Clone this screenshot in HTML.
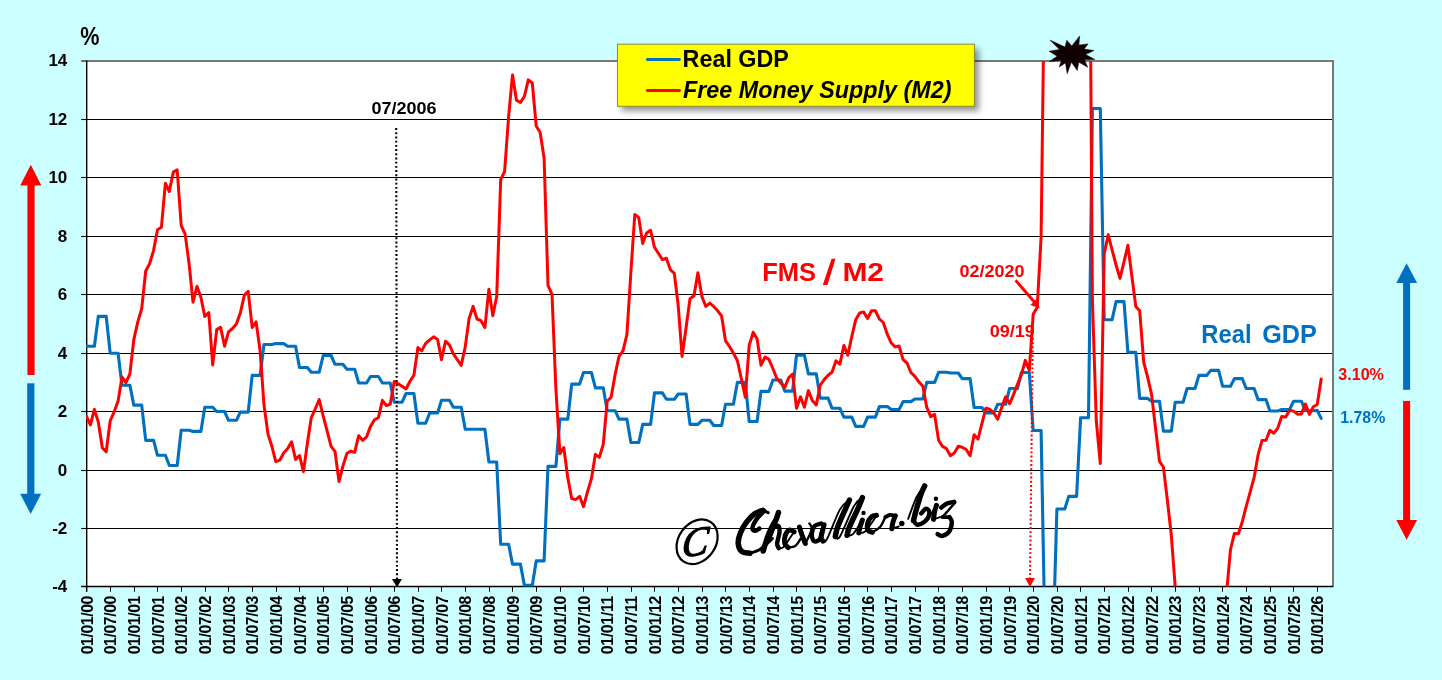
<!DOCTYPE html><html><head><meta charset="utf-8"><title>Real GDP vs Free Money Supply</title>
<style>html,body{margin:0;padding:0;background:#ccffff;}body{width:1442px;height:680px;overflow:hidden;font-family:"Liberation Sans",sans-serif;}svg{display:block}text{font-family:"Liberation Sans",sans-serif;font-weight:bold}</style></head><body>
<svg width="1442" height="680" viewBox="0 0 1442 680" style="opacity:0.999">
<defs><clipPath id="cp"><rect x="86.0" y="61.0" width="1247.1" height="525.6"/></clipPath>
<filter id="sh" x="-5%" y="-10%" width="115%" height="140%"><feGaussianBlur stdDeviation="3"/></filter></defs>
<rect x="0" y="0" width="1442" height="680" fill="#ccffff"/>
<rect x="86.7" y="61.0" width="1246.4" height="525.0" fill="#ffffff"/>
<line x1="86.7" y1="528.5" x2="1333.1" y2="528.5" stroke="#000" stroke-width="1.1"/>
<line x1="86.7" y1="470.5" x2="1333.1" y2="470.5" stroke="#000" stroke-width="1.1"/>
<line x1="86.7" y1="411.5" x2="1333.1" y2="411.5" stroke="#000" stroke-width="1.1"/>
<line x1="86.7" y1="353.5" x2="1333.1" y2="353.5" stroke="#000" stroke-width="1.1"/>
<line x1="86.7" y1="294.5" x2="1333.1" y2="294.5" stroke="#000" stroke-width="1.1"/>
<line x1="86.7" y1="236.5" x2="1333.1" y2="236.5" stroke="#000" stroke-width="1.1"/>
<line x1="86.7" y1="177.5" x2="1333.1" y2="177.5" stroke="#000" stroke-width="1.1"/>
<line x1="86.7" y1="119.5" x2="1333.1" y2="119.5" stroke="#000" stroke-width="1.1"/>
<line x1="86.7" y1="61" x2="1334" y2="61" stroke="#787878" stroke-width="2"/>
<line x1="1333" y1="60" x2="1333" y2="587" stroke="#787878" stroke-width="2"/>
<line x1="86.7" y1="60.5" x2="86.7" y2="591.7" stroke="#000" stroke-width="1.4"/>
<line x1="81.2" y1="586.5" x2="1333.1" y2="586.5" stroke="#000" stroke-width="1.3"/>
<text x="67.3" y="591.5" font-size="17" text-anchor="end" fill="#000">-4</text>
<line x1="81.2" y1="528.5" x2="86.7" y2="528.5" stroke="#000" stroke-width="1.1"/>
<text x="67.3" y="533.5" font-size="17" text-anchor="end" fill="#000">-2</text>
<line x1="81.2" y1="470.5" x2="86.7" y2="470.5" stroke="#000" stroke-width="1.1"/>
<text x="67.3" y="475.5" font-size="17" text-anchor="end" fill="#000">0</text>
<line x1="81.2" y1="411.5" x2="86.7" y2="411.5" stroke="#000" stroke-width="1.1"/>
<text x="67.3" y="416.5" font-size="17" text-anchor="end" fill="#000">2</text>
<line x1="81.2" y1="353.5" x2="86.7" y2="353.5" stroke="#000" stroke-width="1.1"/>
<text x="67.3" y="358.5" font-size="17" text-anchor="end" fill="#000">4</text>
<line x1="81.2" y1="294.5" x2="86.7" y2="294.5" stroke="#000" stroke-width="1.1"/>
<text x="67.3" y="299.5" font-size="17" text-anchor="end" fill="#000">6</text>
<line x1="81.2" y1="236.5" x2="86.7" y2="236.5" stroke="#000" stroke-width="1.1"/>
<text x="67.3" y="241.5" font-size="17" text-anchor="end" fill="#000">8</text>
<line x1="81.2" y1="177.5" x2="86.7" y2="177.5" stroke="#000" stroke-width="1.1"/>
<text x="67.3" y="182.5" font-size="17" text-anchor="end" fill="#000">10</text>
<line x1="81.2" y1="119.5" x2="86.7" y2="119.5" stroke="#000" stroke-width="1.1"/>
<text x="67.3" y="124.5" font-size="17" text-anchor="end" fill="#000">12</text>
<line x1="81.2" y1="61.0" x2="86.7" y2="61.0" stroke="#000" stroke-width="1.1"/>
<text x="67.3" y="66.0" font-size="17" text-anchor="end" fill="#000">14</text>
<line x1="86.5" y1="586.0" x2="86.5" y2="591.7" stroke="#000" stroke-width="1.05"/>
<text transform="translate(92.50,595.7) rotate(-90)" font-size="15.8" text-anchor="end" textLength="58.6" lengthAdjust="spacing" fill="#000">01/01/00</text>
<line x1="110.5" y1="586.0" x2="110.5" y2="591.7" stroke="#000" stroke-width="1.05"/>
<text transform="translate(116.17,595.7) rotate(-90)" font-size="15.8" text-anchor="end" textLength="58.6" lengthAdjust="spacing" fill="#000">01/07/00</text>
<line x1="134.5" y1="586.0" x2="134.5" y2="591.7" stroke="#000" stroke-width="1.05"/>
<text transform="translate(139.84,595.7) rotate(-90)" font-size="15.8" text-anchor="end" textLength="58.6" lengthAdjust="spacing" fill="#000">01/01/01</text>
<line x1="157.5" y1="586.0" x2="157.5" y2="591.7" stroke="#000" stroke-width="1.05"/>
<text transform="translate(163.50,595.7) rotate(-90)" font-size="15.8" text-anchor="end" textLength="58.6" lengthAdjust="spacing" fill="#000">01/07/01</text>
<line x1="181.5" y1="586.0" x2="181.5" y2="591.7" stroke="#000" stroke-width="1.05"/>
<text transform="translate(187.17,595.7) rotate(-90)" font-size="15.8" text-anchor="end" textLength="58.6" lengthAdjust="spacing" fill="#000">01/01/02</text>
<line x1="205.5" y1="586.0" x2="205.5" y2="591.7" stroke="#000" stroke-width="1.05"/>
<text transform="translate(210.84,595.7) rotate(-90)" font-size="15.8" text-anchor="end" textLength="58.6" lengthAdjust="spacing" fill="#000">01/07/02</text>
<line x1="228.5" y1="586.0" x2="228.5" y2="591.7" stroke="#000" stroke-width="1.05"/>
<text transform="translate(234.51,595.7) rotate(-90)" font-size="15.8" text-anchor="end" textLength="58.6" lengthAdjust="spacing" fill="#000">01/01/03</text>
<line x1="252.5" y1="586.0" x2="252.5" y2="591.7" stroke="#000" stroke-width="1.05"/>
<text transform="translate(258.18,595.7) rotate(-90)" font-size="15.8" text-anchor="end" textLength="58.6" lengthAdjust="spacing" fill="#000">01/07/03</text>
<line x1="276.5" y1="586.0" x2="276.5" y2="591.7" stroke="#000" stroke-width="1.05"/>
<text transform="translate(281.84,595.7) rotate(-90)" font-size="15.8" text-anchor="end" textLength="58.6" lengthAdjust="spacing" fill="#000">01/01/04</text>
<line x1="299.5" y1="586.0" x2="299.5" y2="591.7" stroke="#000" stroke-width="1.05"/>
<text transform="translate(305.51,595.7) rotate(-90)" font-size="15.8" text-anchor="end" textLength="58.6" lengthAdjust="spacing" fill="#000">01/07/04</text>
<line x1="323.5" y1="586.0" x2="323.5" y2="591.7" stroke="#000" stroke-width="1.05"/>
<text transform="translate(329.18,595.7) rotate(-90)" font-size="15.8" text-anchor="end" textLength="58.6" lengthAdjust="spacing" fill="#000">01/01/05</text>
<line x1="347.5" y1="586.0" x2="347.5" y2="591.7" stroke="#000" stroke-width="1.05"/>
<text transform="translate(352.85,595.7) rotate(-90)" font-size="15.8" text-anchor="end" textLength="58.6" lengthAdjust="spacing" fill="#000">01/07/05</text>
<line x1="370.5" y1="586.0" x2="370.5" y2="591.7" stroke="#000" stroke-width="1.05"/>
<text transform="translate(376.52,595.7) rotate(-90)" font-size="15.8" text-anchor="end" textLength="58.6" lengthAdjust="spacing" fill="#000">01/01/06</text>
<line x1="394.5" y1="586.0" x2="394.5" y2="591.7" stroke="#000" stroke-width="1.05"/>
<text transform="translate(400.18,595.7) rotate(-90)" font-size="15.8" text-anchor="end" textLength="58.6" lengthAdjust="spacing" fill="#000">01/07/06</text>
<line x1="418.5" y1="586.0" x2="418.5" y2="591.7" stroke="#000" stroke-width="1.05"/>
<text transform="translate(423.85,595.7) rotate(-90)" font-size="15.8" text-anchor="end" textLength="58.6" lengthAdjust="spacing" fill="#000">01/01/07</text>
<line x1="441.5" y1="586.0" x2="441.5" y2="591.7" stroke="#000" stroke-width="1.05"/>
<text transform="translate(447.52,595.7) rotate(-90)" font-size="15.8" text-anchor="end" textLength="58.6" lengthAdjust="spacing" fill="#000">01/07/07</text>
<line x1="465.5" y1="586.0" x2="465.5" y2="591.7" stroke="#000" stroke-width="1.05"/>
<text transform="translate(471.19,595.7) rotate(-90)" font-size="15.8" text-anchor="end" textLength="58.6" lengthAdjust="spacing" fill="#000">01/01/08</text>
<line x1="489.5" y1="586.0" x2="489.5" y2="591.7" stroke="#000" stroke-width="1.05"/>
<text transform="translate(494.86,595.7) rotate(-90)" font-size="15.8" text-anchor="end" textLength="58.6" lengthAdjust="spacing" fill="#000">01/07/08</text>
<line x1="512.5" y1="586.0" x2="512.5" y2="591.7" stroke="#000" stroke-width="1.05"/>
<text transform="translate(518.52,595.7) rotate(-90)" font-size="15.8" text-anchor="end" textLength="58.6" lengthAdjust="spacing" fill="#000">01/01/09</text>
<line x1="536.5" y1="586.0" x2="536.5" y2="591.7" stroke="#000" stroke-width="1.05"/>
<text transform="translate(542.19,595.7) rotate(-90)" font-size="15.8" text-anchor="end" textLength="58.6" lengthAdjust="spacing" fill="#000">01/07/09</text>
<line x1="560.5" y1="586.0" x2="560.5" y2="591.7" stroke="#000" stroke-width="1.05"/>
<text transform="translate(565.86,595.7) rotate(-90)" font-size="15.8" text-anchor="end" textLength="58.6" lengthAdjust="spacing" fill="#000">01/01/10</text>
<line x1="583.5" y1="586.0" x2="583.5" y2="591.7" stroke="#000" stroke-width="1.05"/>
<text transform="translate(589.53,595.7) rotate(-90)" font-size="15.8" text-anchor="end" textLength="58.6" lengthAdjust="spacing" fill="#000">01/07/10</text>
<line x1="607.5" y1="586.0" x2="607.5" y2="591.7" stroke="#000" stroke-width="1.05"/>
<text transform="translate(613.20,595.7) rotate(-90)" font-size="15.8" text-anchor="end" textLength="58.6" lengthAdjust="spacing" fill="#000">01/01/11</text>
<line x1="631.5" y1="586.0" x2="631.5" y2="591.7" stroke="#000" stroke-width="1.05"/>
<text transform="translate(636.86,595.7) rotate(-90)" font-size="15.8" text-anchor="end" textLength="58.6" lengthAdjust="spacing" fill="#000">01/07/11</text>
<line x1="654.5" y1="586.0" x2="654.5" y2="591.7" stroke="#000" stroke-width="1.05"/>
<text transform="translate(660.53,595.7) rotate(-90)" font-size="15.8" text-anchor="end" textLength="58.6" lengthAdjust="spacing" fill="#000">01/01/12</text>
<line x1="678.5" y1="586.0" x2="678.5" y2="591.7" stroke="#000" stroke-width="1.05"/>
<text transform="translate(684.20,595.7) rotate(-90)" font-size="15.8" text-anchor="end" textLength="58.6" lengthAdjust="spacing" fill="#000">01/07/12</text>
<line x1="702.5" y1="586.0" x2="702.5" y2="591.7" stroke="#000" stroke-width="1.05"/>
<text transform="translate(707.87,595.7) rotate(-90)" font-size="15.8" text-anchor="end" textLength="58.6" lengthAdjust="spacing" fill="#000">01/01/13</text>
<line x1="725.5" y1="586.0" x2="725.5" y2="591.7" stroke="#000" stroke-width="1.05"/>
<text transform="translate(731.54,595.7) rotate(-90)" font-size="15.8" text-anchor="end" textLength="58.6" lengthAdjust="spacing" fill="#000">01/07/13</text>
<line x1="749.5" y1="586.0" x2="749.5" y2="591.7" stroke="#000" stroke-width="1.05"/>
<text transform="translate(755.20,595.7) rotate(-90)" font-size="15.8" text-anchor="end" textLength="58.6" lengthAdjust="spacing" fill="#000">01/01/14</text>
<line x1="773.5" y1="586.0" x2="773.5" y2="591.7" stroke="#000" stroke-width="1.05"/>
<text transform="translate(778.87,595.7) rotate(-90)" font-size="15.8" text-anchor="end" textLength="58.6" lengthAdjust="spacing" fill="#000">01/07/14</text>
<line x1="796.5" y1="586.0" x2="796.5" y2="591.7" stroke="#000" stroke-width="1.05"/>
<text transform="translate(802.54,595.7) rotate(-90)" font-size="15.8" text-anchor="end" textLength="58.6" lengthAdjust="spacing" fill="#000">01/01/15</text>
<line x1="820.5" y1="586.0" x2="820.5" y2="591.7" stroke="#000" stroke-width="1.05"/>
<text transform="translate(826.21,595.7) rotate(-90)" font-size="15.8" text-anchor="end" textLength="58.6" lengthAdjust="spacing" fill="#000">01/07/15</text>
<line x1="844.5" y1="586.0" x2="844.5" y2="591.7" stroke="#000" stroke-width="1.05"/>
<text transform="translate(849.88,595.7) rotate(-90)" font-size="15.8" text-anchor="end" textLength="58.6" lengthAdjust="spacing" fill="#000">01/01/16</text>
<line x1="867.5" y1="586.0" x2="867.5" y2="591.7" stroke="#000" stroke-width="1.05"/>
<text transform="translate(873.54,595.7) rotate(-90)" font-size="15.8" text-anchor="end" textLength="58.6" lengthAdjust="spacing" fill="#000">01/07/16</text>
<line x1="891.5" y1="586.0" x2="891.5" y2="591.7" stroke="#000" stroke-width="1.05"/>
<text transform="translate(897.21,595.7) rotate(-90)" font-size="15.8" text-anchor="end" textLength="58.6" lengthAdjust="spacing" fill="#000">01/01/17</text>
<line x1="915.5" y1="586.0" x2="915.5" y2="591.7" stroke="#000" stroke-width="1.05"/>
<text transform="translate(920.88,595.7) rotate(-90)" font-size="15.8" text-anchor="end" textLength="58.6" lengthAdjust="spacing" fill="#000">01/07/17</text>
<line x1="938.5" y1="586.0" x2="938.5" y2="591.7" stroke="#000" stroke-width="1.05"/>
<text transform="translate(944.55,595.7) rotate(-90)" font-size="15.8" text-anchor="end" textLength="58.6" lengthAdjust="spacing" fill="#000">01/01/18</text>
<line x1="962.5" y1="586.0" x2="962.5" y2="591.7" stroke="#000" stroke-width="1.05"/>
<text transform="translate(968.22,595.7) rotate(-90)" font-size="15.8" text-anchor="end" textLength="58.6" lengthAdjust="spacing" fill="#000">01/07/18</text>
<line x1="986.5" y1="586.0" x2="986.5" y2="591.7" stroke="#000" stroke-width="1.05"/>
<text transform="translate(991.88,595.7) rotate(-90)" font-size="15.8" text-anchor="end" textLength="58.6" lengthAdjust="spacing" fill="#000">01/01/19</text>
<line x1="1009.5" y1="586.0" x2="1009.5" y2="591.7" stroke="#000" stroke-width="1.05"/>
<text transform="translate(1015.55,595.7) rotate(-90)" font-size="15.8" text-anchor="end" textLength="58.6" lengthAdjust="spacing" fill="#000">01/07/19</text>
<line x1="1033.5" y1="586.0" x2="1033.5" y2="591.7" stroke="#000" stroke-width="1.05"/>
<text transform="translate(1039.22,595.7) rotate(-90)" font-size="15.8" text-anchor="end" textLength="58.6" lengthAdjust="spacing" fill="#000">01/01/20</text>
<line x1="1057.5" y1="586.0" x2="1057.5" y2="591.7" stroke="#000" stroke-width="1.05"/>
<text transform="translate(1062.89,595.7) rotate(-90)" font-size="15.8" text-anchor="end" textLength="58.6" lengthAdjust="spacing" fill="#000">01/07/20</text>
<line x1="1080.5" y1="586.0" x2="1080.5" y2="591.7" stroke="#000" stroke-width="1.05"/>
<text transform="translate(1086.56,595.7) rotate(-90)" font-size="15.8" text-anchor="end" textLength="58.6" lengthAdjust="spacing" fill="#000">01/01/21</text>
<line x1="1104.5" y1="586.0" x2="1104.5" y2="591.7" stroke="#000" stroke-width="1.05"/>
<text transform="translate(1110.22,595.7) rotate(-90)" font-size="15.8" text-anchor="end" textLength="58.6" lengthAdjust="spacing" fill="#000">01/07/21</text>
<line x1="1128.5" y1="586.0" x2="1128.5" y2="591.7" stroke="#000" stroke-width="1.05"/>
<text transform="translate(1133.89,595.7) rotate(-90)" font-size="15.8" text-anchor="end" textLength="58.6" lengthAdjust="spacing" fill="#000">01/01/22</text>
<line x1="1151.5" y1="586.0" x2="1151.5" y2="591.7" stroke="#000" stroke-width="1.05"/>
<text transform="translate(1157.56,595.7) rotate(-90)" font-size="15.8" text-anchor="end" textLength="58.6" lengthAdjust="spacing" fill="#000">01/07/22</text>
<line x1="1175.5" y1="586.0" x2="1175.5" y2="591.7" stroke="#000" stroke-width="1.05"/>
<text transform="translate(1181.23,595.7) rotate(-90)" font-size="15.8" text-anchor="end" textLength="58.6" lengthAdjust="spacing" fill="#000">01/01/23</text>
<line x1="1199.5" y1="586.0" x2="1199.5" y2="591.7" stroke="#000" stroke-width="1.05"/>
<text transform="translate(1204.90,595.7) rotate(-90)" font-size="15.8" text-anchor="end" textLength="58.6" lengthAdjust="spacing" fill="#000">01/07/23</text>
<line x1="1222.5" y1="586.0" x2="1222.5" y2="591.7" stroke="#000" stroke-width="1.05"/>
<text transform="translate(1228.56,595.7) rotate(-90)" font-size="15.8" text-anchor="end" textLength="58.6" lengthAdjust="spacing" fill="#000">01/01/24</text>
<line x1="1246.5" y1="586.0" x2="1246.5" y2="591.7" stroke="#000" stroke-width="1.05"/>
<text transform="translate(1252.23,595.7) rotate(-90)" font-size="15.8" text-anchor="end" textLength="58.6" lengthAdjust="spacing" fill="#000">01/07/24</text>
<line x1="1270.5" y1="586.0" x2="1270.5" y2="591.7" stroke="#000" stroke-width="1.05"/>
<text transform="translate(1275.90,595.7) rotate(-90)" font-size="15.8" text-anchor="end" textLength="58.6" lengthAdjust="spacing" fill="#000">01/01/25</text>
<line x1="1293.5" y1="586.0" x2="1293.5" y2="591.7" stroke="#000" stroke-width="1.05"/>
<text transform="translate(1299.57,595.7) rotate(-90)" font-size="15.8" text-anchor="end" textLength="58.6" lengthAdjust="spacing" fill="#000">01/07/25</text>
<line x1="1317.5" y1="586.0" x2="1317.5" y2="591.7" stroke="#000" stroke-width="1.05"/>
<text transform="translate(1323.24,595.7) rotate(-90)" font-size="15.8" text-anchor="end" textLength="58.6" lengthAdjust="spacing" fill="#000">01/01/26</text>
<text x="80.3" y="44.6" font-size="25" textLength="19.2" lengthAdjust="spacingAndGlyphs" fill="#000">%</text>
<g clip-path="url(#cp)" fill="none" stroke-linejoin="round" stroke-linecap="round">
<polyline stroke="#0070c0" stroke-width="3.1" points="86.5,346.2 90.4,346.2 94.4,346.2 98.3,316.4 102.3,316.4 106.2,316.4 110.2,353.2 114.1,353.2 118.1,353.2 122.0,385.3 125.9,385.3 129.9,385.3 133.8,405.1 137.8,405.1 141.7,405.1 145.7,440.4 149.6,440.4 153.6,440.4 157.5,455.3 161.4,455.3 165.4,455.3 169.3,465.5 173.3,465.5 177.2,465.5 181.2,430.2 185.1,430.2 189.1,430.2 193.0,431.4 197.0,431.4 200.9,431.4 204.8,407.2 208.8,407.2 212.7,407.2 216.7,411.5 220.6,411.5 224.6,411.5 228.5,420.3 232.5,420.3 236.4,420.3 240.3,412.1 244.3,412.1 248.2,412.1 252.2,375.4 256.1,375.4 260.1,375.4 264.0,344.5 268.0,344.5 271.9,344.5 275.8,343.6 279.8,343.6 283.7,343.6 287.7,346.2 291.6,346.2 295.6,346.2 299.5,367.5 303.5,367.5 307.4,367.5 311.3,372.2 315.3,372.2 319.2,372.2 323.2,355.5 327.1,355.5 331.1,355.5 335.0,364.3 339.0,364.3 342.9,364.3 346.9,369.2 350.8,369.2 354.7,369.2 358.7,383.0 362.6,383.0 366.6,383.0 370.5,376.5 374.5,376.5 378.4,376.5 382.4,383.0 386.3,383.0 390.2,383.0 394.2,402.2 398.1,402.2 402.1,402.2 406.0,393.5 410.0,393.5 413.9,393.5 417.9,423.2 421.8,423.2 425.7,423.2 429.7,413.0 433.6,413.0 437.6,413.0 441.5,400.2 445.5,400.2 449.4,400.2 453.4,407.2 457.3,407.2 461.2,407.2 465.2,429.3 469.1,429.3 473.1,429.3 477.0,429.3 481.0,429.3 484.9,429.3 488.9,462.0 492.8,462.0 496.7,462.0 500.7,544.3 504.6,544.3 508.6,544.3 512.5,564.1 516.5,564.1 520.4,564.1 524.4,585.4 528.3,585.4 532.3,585.4 536.2,560.9 540.1,560.9 544.1,560.9 548.0,466.4 552.0,466.4 555.9,466.4 559.9,419.1 563.8,419.1 567.8,419.1 571.7,384.1 575.6,384.1 579.6,384.1 583.5,372.5 587.5,372.5 591.4,372.5 595.4,387.9 599.3,387.9 603.3,387.9 607.2,410.7 611.1,410.7 615.1,410.7 619.0,419.1 623.0,419.1 626.9,419.1 630.9,442.5 634.8,442.5 638.8,442.5 642.7,424.4 646.6,424.4 650.6,424.4 654.5,392.9 658.5,392.9 662.4,392.9 666.4,399.3 670.3,399.3 674.3,399.3 678.2,394.0 682.1,394.0 686.1,394.0 690.0,424.4 694.0,424.4 697.9,424.4 701.9,420.3 705.8,420.3 709.8,420.3 713.7,425.5 717.7,425.5 721.6,425.5 725.5,404.3 729.5,404.3 733.4,404.3 737.4,382.4 741.3,382.4 745.3,382.4 749.2,421.5 753.2,421.5 757.1,421.5 761.0,391.4 765.0,391.4 768.9,391.4 772.9,380.0 776.8,380.0 780.8,380.0 784.7,391.1 788.7,391.1 792.6,391.1 796.5,355.2 800.5,355.2 804.4,355.2 808.4,373.9 812.3,373.9 816.3,373.9 820.2,398.1 824.2,398.1 828.1,398.1 832.0,408.3 836.0,408.3 839.9,408.3 843.9,417.1 847.8,417.1 851.8,417.1 855.7,426.4 859.7,426.4 863.6,426.4 867.6,417.1 871.5,417.1 875.4,417.1 879.4,406.6 883.3,406.6 887.3,406.6 891.2,409.5 895.2,409.5 899.1,409.5 903.1,401.6 907.0,401.6 910.9,401.6 914.9,399.0 918.8,399.0 922.8,399.0 926.7,382.4 930.7,382.4 934.6,382.4 938.6,372.2 942.5,372.2 946.4,372.2 950.4,373.0 954.3,373.0 958.3,373.0 962.2,378.6 966.2,378.6 970.1,378.6 974.1,407.5 978.0,407.5 981.9,407.5 985.9,413.0 989.8,413.0 993.8,413.0 997.7,404.3 1001.7,404.3 1005.6,404.3 1009.6,388.5 1013.5,388.5 1017.4,388.5 1021.4,372.5 1025.3,372.5 1029.3,372.5 1033.2,430.5 1037.2,430.5 1041.1,430.5 1045.1,644.3 1049.0,644.3 1053.0,644.3 1056.9,509.0 1060.8,509.0 1064.8,509.0 1068.7,496.4 1072.7,496.4 1076.6,496.4 1080.6,417.7 1084.5,417.7 1088.5,417.7 1092.4,108.5 1096.3,108.5 1100.3,108.5 1104.2,319.7 1108.2,319.7 1112.1,319.7 1116.1,301.6 1120.0,301.6 1124.0,301.6 1127.9,352.3 1131.8,352.3 1135.8,352.3 1139.7,398.4 1143.7,398.4 1147.6,398.4 1151.6,401.3 1155.5,401.3 1159.5,401.3 1163.4,431.1 1167.3,431.1 1171.3,431.1 1175.2,402.2 1179.2,402.2 1183.1,402.2 1187.1,388.5 1191.0,388.5 1195.0,388.5 1198.9,375.4 1202.9,375.4 1206.8,375.4 1210.7,370.4 1214.7,370.4 1218.6,370.4 1222.6,386.2 1226.5,386.2 1230.5,386.2 1234.4,378.6 1238.4,378.6 1242.3,378.6 1246.2,388.5 1250.2,388.5 1254.1,388.5 1258.1,399.6 1262.0,399.6 1266.0,399.6 1269.9,411.0 1273.9,411.0 1277.8,411.0 1281.7,409.5 1285.7,409.5 1289.6,409.5 1293.6,401.3 1297.5,401.3 1301.5,401.3 1305.4,410.7 1309.4,410.7 1313.3,410.7 1317.2,410.4 1321.2,418.4"/>
<polyline stroke="#ff0000" stroke-width="3.0" points="86.5,416.5 90.4,424.9 94.4,409.4 98.3,422.0 102.3,447.8 106.2,451.8 110.2,420.9 114.1,412.0 118.1,401.0 122.0,377.0 125.9,382.6 129.9,373.8 133.8,339.6 137.8,321.9 141.7,308.7 145.7,271.0 149.6,263.7 153.6,250.4 157.5,229.7 161.4,227.3 165.4,183.2 169.3,191.5 173.3,172.1 177.2,169.9 181.2,225.5 185.1,233.9 189.1,263.7 193.0,302.2 197.0,286.4 200.9,297.2 204.8,316.4 208.8,312.6 212.7,364.9 216.7,329.6 220.6,327.4 224.6,346.2 228.5,331.8 232.5,328.5 236.4,324.1 240.3,313.1 244.3,295.4 248.2,291.3 252.2,327.4 256.1,321.9 260.1,350.6 264.0,405.0 268.0,434.1 271.9,446.3 275.8,461.7 279.8,460.2 283.7,452.9 287.7,448.5 291.6,441.8 295.6,459.5 299.5,455.5 303.5,471.6 307.4,443.0 311.3,417.6 315.3,408.8 319.2,399.5 323.2,416.0 327.1,430.8 331.1,446.3 335.0,451.3 339.0,481.6 342.9,466.1 346.9,453.5 350.8,451.1 354.7,452.4 358.7,435.7 362.6,440.3 366.6,436.8 370.5,426.4 374.5,419.8 378.4,417.6 382.4,400.4 386.3,405.5 390.2,404.4 394.2,381.4 398.1,383.8 402.1,386.2 406.0,389.0 410.0,381.3 413.9,375.2 417.9,347.6 421.8,350.9 425.7,343.4 429.7,339.9 433.6,336.8 437.6,339.4 441.5,359.7 445.5,341.2 449.4,344.9 453.4,353.8 457.3,359.7 461.2,365.4 465.2,347.1 469.1,318.5 473.1,306.4 477.0,319.0 481.0,320.7 484.9,327.4 488.9,289.2 492.8,315.7 496.7,296.5 500.7,179.6 504.6,171.5 508.6,116.8 512.5,74.9 516.5,100.2 520.4,102.4 524.4,96.5 528.3,79.9 532.3,83.0 536.2,126.0 540.1,132.2 544.1,158.2 548.0,285.4 552.0,294.3 555.9,389.0 559.9,453.7 563.8,447.5 567.8,477.8 571.7,498.5 575.6,499.6 579.6,496.3 583.5,506.7 587.5,491.9 591.4,478.7 595.4,454.3 599.3,457.4 603.3,444.2 607.2,401.2 611.1,397.2 615.1,374.7 619.0,356.4 623.0,350.9 626.9,334.5 630.9,272.0 634.8,214.4 638.8,217.7 642.7,243.5 646.6,232.9 650.6,230.3 654.5,247.3 658.5,253.5 662.4,259.6 666.4,258.3 670.3,269.6 674.3,273.3 678.2,305.3 682.1,356.4 686.1,327.5 690.0,298.7 694.0,295.7 697.9,272.7 701.9,296.5 705.8,306.4 709.8,303.1 713.7,306.4 717.7,310.8 721.6,316.0 725.5,340.8 729.5,346.5 733.4,353.1 737.4,360.8 741.3,378.5 745.3,397.2 749.2,345.4 753.2,332.2 757.1,339.0 761.0,365.2 765.0,357.1 768.9,359.3 772.9,368.5 776.8,378.5 780.8,382.9 784.7,387.3 788.7,377.8 792.6,374.0 796.5,408.2 800.5,396.8 804.4,407.1 808.4,390.6 812.3,400.5 816.3,404.9 820.2,385.1 824.2,379.6 828.1,375.2 832.0,372.3 836.0,360.8 839.9,364.1 843.9,345.4 847.8,355.3 851.8,336.5 855.7,319.8 859.7,313.0 863.6,311.9 867.6,318.5 871.5,310.8 875.4,310.8 879.4,319.0 883.3,322.5 887.3,334.2 891.2,343.0 895.2,346.9 899.1,346.0 903.1,359.7 907.0,363.0 910.9,372.5 914.9,376.3 918.8,381.8 922.8,386.2 926.7,407.1 930.7,416.6 934.6,414.4 938.6,440.2 942.5,446.4 946.4,448.6 950.4,455.7 954.3,453.0 958.3,446.2 962.2,447.3 966.2,449.5 970.1,455.7 974.1,434.7 978.0,439.1 981.9,423.7 985.9,408.2 989.8,409.3 993.8,413.0 997.7,419.3 1001.7,407.5 1005.6,396.8 1009.6,403.8 1013.5,394.6 1017.4,384.6 1021.4,374.7 1025.3,360.4 1029.3,370.3 1033.2,314.1 1037.2,307.5 1041.1,237.0 1045.1,-78.0 1049.0,-300.0 1053.0,-300.0 1056.9,-300.0 1060.8,-300.0 1064.8,-300.0 1068.7,-300.0 1072.7,-300.0 1076.6,-300.0 1080.6,-300.0 1084.5,-300.0 1088.5,-258.0 1092.4,300.0 1096.3,421.0 1100.3,463.5 1104.2,254.0 1108.2,234.7 1112.1,250.0 1116.1,265.0 1120.0,278.4 1124.0,261.8 1127.9,245.3 1131.8,275.7 1135.8,306.4 1139.7,310.8 1143.7,362.0 1147.6,377.0 1151.6,394.6 1155.5,427.7 1159.5,461.4 1163.4,467.0 1167.3,499.6 1171.3,535.0 1175.2,586.8 1179.2,640.0 1183.1,680.0 1187.1,700.0 1191.0,700.0 1195.0,700.0 1198.9,700.0 1202.9,700.0 1206.8,700.0 1210.7,700.0 1214.7,700.0 1218.6,680.0 1222.6,630.0 1226.5,593.6 1230.5,549.5 1234.4,533.4 1238.4,533.8 1242.3,521.7 1246.2,506.3 1250.2,491.9 1254.1,477.6 1258.1,454.8 1262.0,440.4 1266.0,440.3 1269.9,430.3 1273.9,433.2 1277.8,428.1 1281.7,416.6 1285.7,417.1 1289.6,410.2 1293.6,411.1 1297.5,414.2 1301.5,413.9 1305.4,404.0 1309.4,414.4 1313.3,406.7 1317.2,404.5 1321.2,379.1"/>
</g>
<line x1="396.2" y1="128.1" x2="397.0" y2="580" stroke="#000" stroke-width="2.1" stroke-dasharray="1.9,2.3"/>
<polygon points="392,579.1 401.9,579.1 397,587.6" fill="#000"/>
<line x1="1032.8" y1="338" x2="1030.0" y2="578.5" stroke="#ff0000" stroke-width="2.1" stroke-dasharray="1.9,2.3"/>
<polygon points="1025.1,578 1034.9,578 1030,587" fill="#ff0000"/>
<text x="371.6" y="113.9" font-size="16.6" textLength="65" lengthAdjust="spacingAndGlyphs" fill="#000">07/2006</text>
<text x="762.2" y="280.9" font-size="26.2" textLength="53.8" lengthAdjust="spacingAndGlyphs" fill="#ff0000">FMS</text>
<polygon points="822.8,284.9 827.5,284.9 835.5,258.8 831.6,258.8" fill="#ff0000"/>
<text x="842.4" y="280.9" font-size="26.2" textLength="41.6" lengthAdjust="spacingAndGlyphs" fill="#ff0000">M2</text>
<text x="959.6" y="277" font-size="16.6" textLength="65" lengthAdjust="spacingAndGlyphs" fill="#ff0000">02/2020</text>
<text x="989.8" y="336.6" font-size="16" textLength="45" lengthAdjust="spacingAndGlyphs" fill="#ff0000">09/19</text>
<text x="1201.3" y="342.6" font-size="25.6" textLength="50.2" lengthAdjust="spacingAndGlyphs" fill="#0070c0">Real</text>
<text x="1262.2" y="342.6" font-size="25.6" textLength="54.6" lengthAdjust="spacingAndGlyphs" fill="#0070c0">GDP</text>
<text x="1338.3" y="380" font-size="16.2" textLength="45.6" lengthAdjust="spacingAndGlyphs" fill="#ff0000">3.10%</text>
<text x="1340.3" y="423" font-size="16.2" textLength="45" lengthAdjust="spacingAndGlyphs" fill="#0070c0">1.78%</text>
<line x1="1015.6" y1="280.3" x2="1035" y2="302.8" stroke="#ff0000" stroke-width="2.9"/>
<polygon points="1039.6,308.2 1030.4,305 1037.4,298.2" fill="#ff0000"/>
<rect x="27.4" y="184" width="7.2" height="191" fill="#ff0000"/><polygon points="30.8,164.8 41.3,185.5 20.2,185.5" fill="#ff0000"/>
<rect x="27.2" y="383.3" width="7.2" height="112" fill="#0070c0"/><polygon points="30.7,514 41.2,493.7 20.1,493.7" fill="#0070c0"/>
<rect x="1403.1" y="282" width="7" height="107.8" fill="#0070c0"/><polygon points="1406.6,263.2 1417.1,283 1396.3,283" fill="#0070c0"/>
<rect x="1403.1" y="400.9" width="7" height="120" fill="#ff0000"/><polygon points="1406.6,539.8 1417.1,520 1396.3,520" fill="#ff0000"/>
<rect x="621.5" y="48.5" width="357.5" height="62.5" fill="#000" opacity="0.42" filter="url(#sh)"/>
<rect x="617.5" y="44.2" width="356.9" height="62.1" fill="#ffff00" stroke="#8a8a3c" stroke-width="1"/>
<line x1="647.4" y1="59.5" x2="679.4" y2="59.5" stroke="#0070c0" stroke-width="2.9" stroke-linecap="round"/>
<line x1="647.4" y1="90.5" x2="679.4" y2="90.5" stroke="#ff0000" stroke-width="2.9" stroke-linecap="round"/>
<text x="682.6" y="66.8" font-size="24" textLength="106.3" lengthAdjust="spacingAndGlyphs" fill="#000">Real GDP</text>
<text x="683" y="97.7" font-size="24" font-style="italic" fill="#000" textLength="268.5" lengthAdjust="spacingAndGlyphs">Free Money Supply (M2)</text>
<polygon points="1079.7,35.9 1078.9,45.1 1088.1,43.9 1084.1,49.0 1094.0,50.5 1085.7,54.6 1094.8,59.4 1084.5,59.8 1087.7,67.3 1078.9,62.2 1077.2,70.5 1071.4,62.2 1067.2,73.7 1065.4,62.9 1059.3,66.9 1061.4,60.2 1049.5,61.4 1057.1,56.2 1049.1,51.2 1059.5,49.4 1049.9,40.1 1065.0,47.1 1066.8,40.3 1071.8,45.9" fill="#100000" stroke="#100000" stroke-width="0.5" stroke-linejoin="miter"/>
<ellipse cx="697.1" cy="541.8" rx="24" ry="18.6" transform="rotate(-55 697.1 541.8)" fill="none" stroke="#000" stroke-width="2.2"/>
<g transform="translate(677,563) rotate(-9.3) skewX(-14)" fill="#000">
<text x="4" y="-4.5" font-size="40" stroke="#000" stroke-width="1.3" style="font-family:'Liberation Serif',serif;font-style:italic;font-weight:normal">C</text>
</g>
<g fill="none" stroke="#000" stroke-linecap="round" stroke-linejoin="round">
<path d="M768.2,512.6 L762.9,510.3" stroke-width="3.0"/>
<path d="M762.9,510.3 C761.5,510.9 757.4,511.8 754.7,513.8 C752.0,515.8 748.9,519.0 746.5,522.1 C744.1,525.2 742.0,529.1 740.6,532.6 C739.2,536.1 738.0,540.1 738.2,543.2 C738.4,546.4 739.8,549.8 741.8,551.5 C743.8,553.2 748.6,552.9 750.0,553.2" stroke-width="5.5"/>
<path d="M750.0,553.2 C751.6,552.6 756.5,551.4 759.4,549.7 C762.3,548.0 765.4,545.1 767.6,543.2 C769.8,541.3 771.6,539.3 772.4,538.5" stroke-width="3.0"/>
<path d="M764.1,510.9 C762.9,512.2 759.1,515.7 757.1,518.5 C755.1,521.3 752.7,525.8 752.4,527.9 C752.1,530.0 754.1,530.8 755.3,530.9 C756.5,531.0 758.7,528.9 759.4,528.5" stroke-width="4.4"/>
<path d="M767.6,543.2 C768.3,541.8 770.5,538.7 772.0,535.0 C773.5,531.3 775.4,524.7 776.5,521.0 C777.6,517.3 778.4,514.0 778.8,512.6" stroke-width="1.9"/>
<path d="M778.5,512.5 C778.1,513.8 777.0,517.6 775.9,520.0 C774.8,522.4 773.1,524.4 771.8,527.1 C770.5,529.8 769.1,533.0 768.0,536.0 C766.9,539.0 765.8,542.5 765.0,545.0 C764.2,547.5 763.5,550.0 763.2,551.0" stroke-width="5.5"/>
<path d="M768.2,536.5 C769.2,534.9 772.3,528.8 774.1,527.1 C775.9,525.4 777.9,525.5 778.8,526.5 C779.7,527.5 779.7,530.1 779.4,532.9 C779.1,535.7 777.2,541.0 777.1,543.5 C777.0,546.0 778.5,547.4 778.8,548.2" stroke-width="4.4"/>
<path d="M778.8,548.2 C779.6,548.0 781.7,548.7 783.5,547.1 C785.3,545.5 787.6,541.3 789.4,538.8 C791.2,536.2 793.3,533.0 794.1,531.8" stroke-width="1.9"/>
<path d="M794.1,531.8 C793.3,531.5 790.9,529.4 789.4,530.0 C787.9,530.6 786.1,533.0 785.3,535.3 C784.5,537.5 784.2,541.5 784.7,543.5 C785.2,545.5 787.6,546.9 788.2,547.6" stroke-width="5.0"/>
<path d="M788.2,547.6 C789.4,547.3 793.2,547.4 795.3,545.9 C797.4,544.4 799.7,540.0 800.6,538.8" stroke-width="2.4"/>
<path d="M799.4,527.1 C799.8,528.4 801.0,532.3 802.0,535.0 C803.0,537.7 804.8,542.1 805.3,543.5" stroke-width="5.0"/>
<path d="M805.3,543.5 C806.4,541.1 811.1,532.7 811.8,529.4 C812.5,526.1 809.8,524.5 809.4,523.5" stroke-width="2.4"/>
<path d="M821.2,523.5 C820.1,523.9 816.3,524.1 814.7,525.9 C813.1,527.7 811.9,531.5 811.8,534.1 C811.7,536.7 812.7,540.4 814.1,541.2 C815.5,542.0 818.4,541.1 820.0,538.8 C821.6,536.4 822.9,529.0 823.5,527.1" stroke-width="4.4"/>
<path d="M824.1,524.7 C823.6,526.7 821.4,533.8 821.2,536.5 C821.0,539.2 822.6,540.4 822.9,541.2" stroke-width="5.0"/>
<path d="M822.9,541.2 C823.6,540.8 824.2,544.1 827.1,538.8 C830.0,533.5 836.3,515.9 840.0,509.4 C843.7,502.9 847.8,501.6 849.4,500.0" stroke-width="1.9"/>
<path d="M849.4,500.0 C848.6,501.8 846.7,506.1 844.7,510.6 C842.7,515.1 839.2,522.8 837.6,527.1 C836.0,531.4 835.7,534.9 835.3,536.5" stroke-width="5.5"/>
<path d="M835.3,536.5 C836.1,536.5 836.9,541.6 840.0,536.5 C843.1,531.4 850.4,512.4 854.1,505.9 C857.8,499.4 861.0,499.0 862.4,497.6" stroke-width="1.9"/>
<path d="M862.4,497.6 C861.6,499.6 859.8,504.5 857.6,509.4 C855.4,514.3 851.1,522.8 849.4,527.1 C847.6,531.4 847.5,533.9 847.1,535.3" stroke-width="5.5"/>
<path d="M847.1,535.3 C848.1,535.1 850.4,536.6 852.9,534.1 C855.4,531.6 860.8,522.4 862.4,520.0" stroke-width="1.9"/>
<path d="M862.4,520.0 C862.0,521.2 860.6,525.0 860.0,527.1 C859.4,529.2 859.0,531.9 858.8,532.9" stroke-width="5.0"/>
<path d="M858.8,532.9 C859.8,532.7 862.4,533.8 864.7,531.8 C867.1,529.8 870.9,524.0 872.9,521.2 C874.9,518.5 875.9,516.3 876.5,515.3" stroke-width="1.9"/>
<path d="M876.5,515.3 C875.7,515.5 873.3,515.1 871.8,516.5 C870.3,517.9 868.2,521.1 867.6,523.5 C867.0,525.9 867.4,529.1 868.2,530.6 C869.0,532.1 871.7,531.9 872.4,532.2" stroke-width="5.0"/>
<path d="M872.4,532.2 C873.7,531.4 877.9,529.6 880.0,527.1 C882.1,524.6 884.4,518.8 885.3,517.1" stroke-width="2.4"/>
<path d="M885.3,517.1 C886.1,516.8 888.3,515.2 890.0,515.0 C891.7,514.8 894.4,515.8 895.3,515.9" stroke-width="3.8"/>
<path d="M895.3,515.9 C894.9,516.9 893.6,519.9 893.0,522.0 C892.4,524.1 892.0,527.7 891.8,528.8" stroke-width="5.0"/>
<path d="M891.8,528.8 L898.8,526.5" stroke-width="1.9"/>
<path d="M908.2,518.8 C909.6,515.2 913.8,502.6 916.5,497.1 C919.2,491.6 923.3,487.8 924.7,485.9" stroke-width="1.9"/>
<path d="M924.7,485.9 C924.1,487.2 922.6,489.7 921.2,493.5 C919.8,497.3 917.8,504.3 916.5,508.8 C915.2,513.3 914.0,518.6 913.5,520.6" stroke-width="5.5"/>
<path d="M913.5,520.6 C914.2,521.3 915.5,524.7 917.6,524.7 C919.7,524.7 923.9,522.7 925.9,520.6 C927.9,518.5 929.4,514.4 929.4,512.4 C929.4,510.4 927.3,508.6 925.9,508.8 C924.5,509.0 922.0,512.7 921.2,513.5" stroke-width="4.4"/>
<path d="M929.4,517.1 L936.5,505.3" stroke-width="1.9"/>
<path d="M936.5,505.3 C936.2,506.3 935.2,508.9 934.7,511.2 C934.2,513.5 933.7,518.0 933.5,519.4" stroke-width="5.0"/>
<path d="M933.5,519.4 L940.0,517.1" stroke-width="1.9"/>
<path d="M941.2,507.6 C942.2,506.9 944.9,504.5 947.0,503.5 C949.1,502.5 952.9,502.1 954.1,501.8" stroke-width="4.4"/>
<path d="M955.3,502.4 L942.4,517.1" stroke-width="2.4"/>
<path d="M942.4,517.1 L949.4,517.1" stroke-width="3.8"/>
<path d="M949.4,517.1 C949.8,517.9 951.8,519.4 951.8,521.8 C951.8,524.1 951.0,528.9 949.4,531.2 C947.8,533.6 944.4,535.4 942.4,535.9 C940.4,536.4 938.4,534.4 937.6,534.1" stroke-width="4.4"/>
</g>
<circle cx="863.5" cy="512.9" r="2.2" fill="#000"/>
<circle cx="901.8" cy="523.5" r="2.7" fill="#000"/>
<circle cx="935.9" cy="498.8" r="2.2" fill="#000"/>
</svg></body></html>
